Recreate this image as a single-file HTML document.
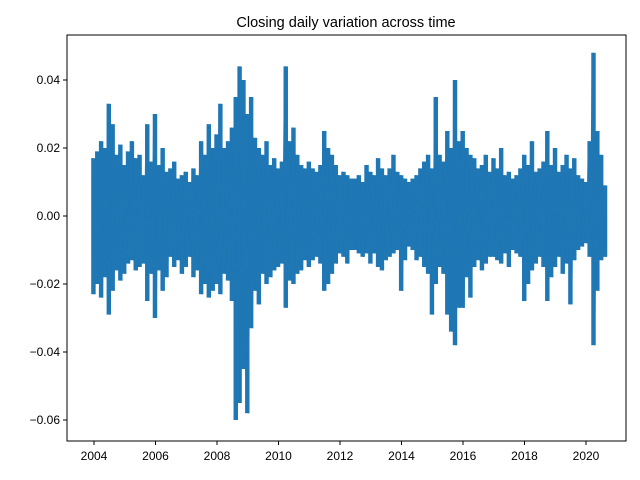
<!DOCTYPE html>
<html><head><meta charset="utf-8"><style>
body{margin:0;background:#fff;}
svg{display:block;font-family:"Liberation Sans","DejaVu Sans",sans-serif;}
</style></head><body>
<svg id="chart" width="640" height="480">
<rect width="640" height="480" fill="#fff"/>
<text x="346" y="27" font-size="14.5" text-anchor="middle">Closing daily variation across time</text>
<g id="plot"></g>
<g id="axes"></g>
</svg>
<script>
const xTicks=[2004,2006,2008,2010,2012,2014,2016,2018,2020];
const yTicks=[0.04,0.02,0.00,-0.02,-0.04,-0.06];
const yTickLabels=["0.04","0.02","0.00","\u22120.02","\u22120.04","\u22120.06"];
const startYear=2003.95, endYear=2020.65;
// values in thousandths, 4 per quarter (high, low, high, low), 2004Q1..2020Q3
const values=[
17,-23,19,-20, 22,-24,20,-18, 33,-29,27,-22, 18,-16,21,-19,
15,-17,19,-14, 22,-13,17,-16, 18,-15,12,-14, 27,-25,16,-17,
30,-30,15,-16, 20,-22,13,-18, 14,-12,16,-15, 11,-13,12,-17,
13,-15,10,-12, 14,-18,12,-16, 22,-23,18,-20, 27,-24,20,-22,
24,-20,33,-23, 20,-17,22,-19, 26,-25,35,-60, 44,-55,40,-45,
30,-58,35,-33, 23,-22,20,-26, 18,-17,22,-20, 15,-18,17,-16,
14,-15,16,-14, 44,-27,22,-19, 26,-20,18,-17, 15,-16,14,-13,
16,-15,14,-13, 13,-12,15,-14, 25,-22,20,-20, 18,-17,15,-14,
12,-11,13,-12, 12,-14,11,-10, 11,-10,12,-11, 10,-12,15,-11,
13,-14,12,-11, 17,-15,14,-16, 12,-13,14,-12, 18,-11,13,-10,
12,-22,11,-13, 10,-9,11,-10, 12,-13,14,-12, 16,-15,18,-17,
14,-29,35,-20, 18,-15,16,-17, 25,-29,20,-34, 40,-38,22,-27,
25,-27,20,-18, 18,-24,17,-15, 14,-13,15,-16, 18,-14,13,-12,
17,-12,14,-13, 20,-14,12,-11, 13,-15,11,-10, 12,-11,14,-12,
18,-25,15,-20, 22,-16,13,-14, 14,-12,16,-15, 25,-25,15,-18,
20,-15,13,-12, 15,-17,18,-14, 14,-26,17,-13, 12,-10,11,-9,
10,-8,22,-12, 48,-38,25,-22, 18,-13,9,-12
];
const L=67,R=626,T=35,B=441;
const xs=yr=>94+(yr-2004)*(492/16);
const ys=v=>216-v*3400;
const NS="http://www.w3.org/2000/svg";
const plot=document.getElementById('plot'), axes=document.getElementById('axes');
let pts=[];
const n=values.length;
const step=(xs(endYear)-xs(startYear))/(n-1);
for(let i=0;i<n;i++){
  const yr=startYear+(endYear-startYear)*i/(n-1);
  pts.push(xs(yr).toFixed(2)+","+ys(values[i]/1000).toFixed(2));
}
for(let j=0;j+1<n;j+=2){
  const yr=startYear+(endYear-startYear)*(j+0.5)/(n-1);
  const x=xs(yr);
  const yHi=ys(values[j]/1000), yLo=ys(values[j+1]/1000);
  const r=document.createElementNS(NS,'rect');
  r.setAttribute('x',(x-step-0.3).toFixed(2));
  r.setAttribute('width',(2*step+0.6).toFixed(2));
  r.setAttribute('y',Math.min(yHi,yLo).toFixed(2));
  r.setAttribute('height',Math.abs(yLo-yHi).toFixed(2));
  r.setAttribute('fill','#1f77b4');
  
  
  plot.appendChild(r);
}
const line=document.createElementNS(NS,'polyline');
line.setAttribute('points',pts.join(' '));
line.setAttribute('fill','none');
line.setAttribute('stroke','#1f77b4');
line.setAttribute('stroke-width','1.6');


plot.appendChild(line);
const frame=document.createElementNS(NS,'rect');
frame.setAttribute('x',L);frame.setAttribute('y',T);
frame.setAttribute('width',R-L);frame.setAttribute('height',B-T);
frame.setAttribute('fill','none');frame.setAttribute('stroke','#000');frame.setAttribute('stroke-width','1');


axes.appendChild(frame);
xTicks.forEach(t=>{
  const x=xs(t);
  const tk=document.createElementNS(NS,'line');
  tk.setAttribute('x1',x);tk.setAttribute('x2',x);tk.setAttribute('y1',B);tk.setAttribute('y2',B+4);tk.setAttribute('stroke','#000');
  
  
  axes.appendChild(tk);
  const tx=document.createElementNS(NS,'text');
  tx.setAttribute('x',x);tx.setAttribute('y',B+19);tx.setAttribute('font-size','12');tx.setAttribute('text-anchor','middle');
  tx.textContent=t;
  
  
  axes.appendChild(tx);
});
yTicks.forEach((t,i)=>{
  const y=ys(t);
  const tk=document.createElementNS(NS,'line');
  tk.setAttribute('x1',L-4);tk.setAttribute('x2',L);tk.setAttribute('y1',y);tk.setAttribute('y2',y);tk.setAttribute('stroke','#000');
  
  
  axes.appendChild(tk);
  const tx=document.createElementNS(NS,'text');
  tx.setAttribute('x',L-7);tx.setAttribute('y',y+4);tx.setAttribute('font-size','12');tx.setAttribute('text-anchor','end');
  tx.textContent=yTickLabels[i];
  
  
  axes.appendChild(tx);
});
</script>
</body></html>
